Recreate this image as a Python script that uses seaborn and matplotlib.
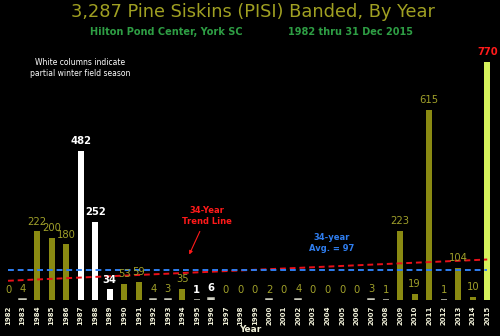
import numpy as np
import pandas as pd
import matplotlib
matplotlib.use("Agg")
import matplotlib.pyplot as plt
import seaborn as sns

years = list(range(1982, 2016))
counts = [0, 4, 222, 200, 180, 482, 252, 34, 53, 59, 4, 3, 35, 1, 6, 0, 0, 0, 2, 0,
          4, 0, 0, 0, 0, 3, 1, 223, 19, 615, 1, 104, 10, 770]
partial_years = [1987, 1988, 1989, 1995, 1996]
highlight_year = 2015

title = "3,287 Pine Siskins (PISI) Banded, By Year"
subtitle_left = "Hilton Pond Center, York SC"
subtitle_right = "1982 thru 31 Dec 2015"
note = "White columns indicate\npartial winter field season"

OLIVE = "#8a8a12"
OLIVE_TXT = "#a0a02a"
WHITE = "#ffffff"
BRIGHT = "#d6f25c"
RED = "#ff1a1a"
BLUE = "#2f7ef0"
GREEN = "#2e9e44"

sns.set_style("dark")
plt.rcParams["font.family"] = ["DejaVu Sans"]

df = pd.DataFrame({"year": [str(y) for y in years], "count": counts})
palette = {}
for y in years:
    if y in partial_years:
        palette[str(y)] = WHITE
    elif y == highlight_year:
        palette[str(y)] = BRIGHT
    else:
        palette[str(y)] = OLIVE

fig = plt.figure(figsize=(5, 3.36), dpi=100, facecolor="black")
ax = fig.add_axes([0, 36 / 336, 1, 300 / 336])
ax.set_facecolor("black")

sns.barplot(data=df, x="year", y="count", hue="year", palette=palette,
            width=0.42, saturation=1, legend=False, ax=ax, zorder=2)

for p, v, y in zip(ax.patches, counts, years):
    if v == 0:
        p.set_linewidth(0)
    elif v < 8:
        p.set_edgecolor("#c8c8b8")
        p.set_linewidth(1.1)
    else:
        p.set_linewidth(0)
    cx = p.get_x() + p.get_width() / 2
    if y in partial_years:
        col, fw = WHITE, "bold"
    elif y == highlight_year:
        col, fw = RED, "bold"
    else:
        col, fw = OLIVE_TXT, "normal"
    ax.annotate(str(v), (cx, v), xytext=(0, 3.5), textcoords="offset points",
                ha="center", va="bottom", color=col, fontsize=7.2, fontweight=fw,
                zorder=4)

idx = np.arange(len(years))
coef = np.polyfit(idx, counts, 1)
ax.plot(idx, np.polyval(coef, idx), color="#e8101a", lw=1.4, ls=(0, (3, 2)), zorder=3)
avg = float(np.mean(counts))
ax.hlines(avg, idx[0], idx[-1], color=BLUE, lw=1.4, linestyles=[(0, (3, 2))], zorder=3)

ax.set_xlim(-0.551, 33.88)
ax.set_ylim(0, 971)
ax.set_yticks([])
ax.set_xlabel("")
ax.set_ylabel("")
ax.tick_params(axis="x", length=0, pad=4, colors="#f0f0d8", labelsize=5, rotation=90)
for t in ax.get_xticklabels():
    t.set_fontweight("bold")
for s in ax.spines.values():
    s.set_visible(False)
ax.grid(False)

ax.annotate("34-Year\nTrend Line", xy=(12.4, 139), xytext=(13.7, 272),
            ha="center", va="center", color=RED, fontsize=6, fontweight="bold",
            arrowprops=dict(arrowstyle="-|>", color=RED, lw=0.8, mutation_scale=5))
ax.text(22.3, 184, f"34-year\nAvg. = {round(avg)}", ha="center", va="center",
        color=BLUE, fontsize=6, fontweight="bold")

fig.text(0.506, 1 - 12 / 336, title, ha="center", va="center", color="#a0a022",
         fontsize=12.8)
fig.text(0.333, 1 - 32 / 336, subtitle_left, ha="center", va="center", color=GREEN,
         fontsize=7, fontweight="bold")
fig.text(0.70, 1 - 32 / 336, subtitle_right, ha="center", va="center", color=GREEN,
         fontsize=7, fontweight="bold")
fig.text(0.16, 1 - 68 / 336, note, ha="center", va="center", color=WHITE,
         fontsize=5.5, linespacing=1.2)
fig.text(0.5, 1 - 330 / 336, "Year", ha="center", va="center", color="#f0f0d8",
         fontsize=6.5, fontweight="bold")

fig.savefig("out.png", dpi=100, facecolor="black")
